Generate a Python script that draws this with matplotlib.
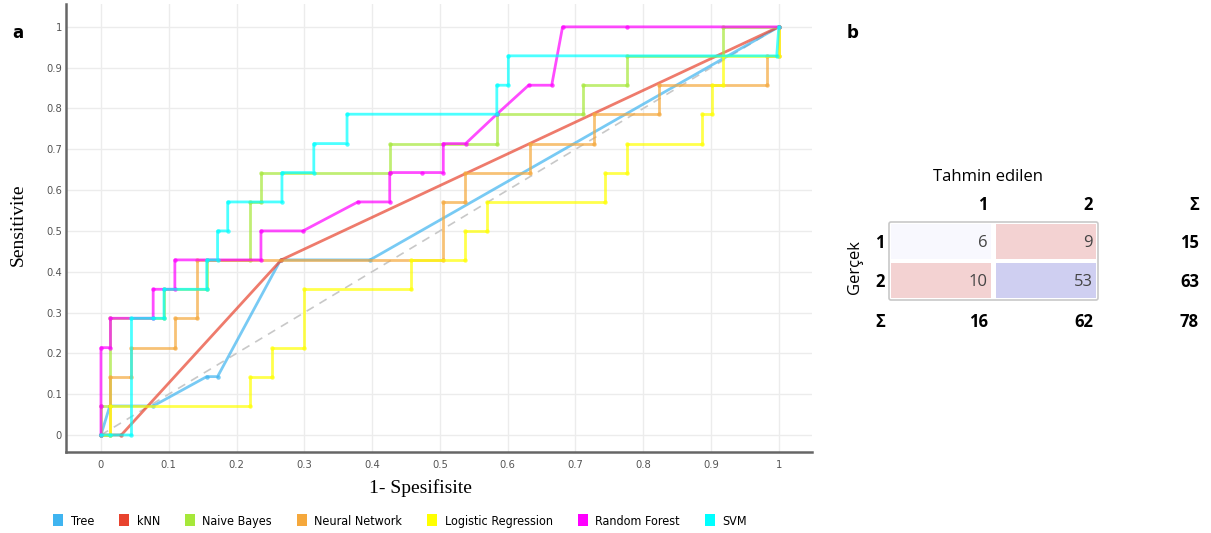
import matplotlib
matplotlib.use("Agg")
import matplotlib.pyplot as plt
from matplotlib.patches import Rectangle, FancyBboxPatch, Patch
from matplotlib.font_manager import FontProperties

W, H = 1211, 533

# ROC curves (1 - specificity, sensitivity)
tree_x = [0, 0.013, 0.077, 0.156, 0.172, 0.265, 0.397, 1]
tree_y = [0, 0.071, 0.071, 0.143, 0.143, 0.429, 0.429, 1]

knn_x = [0, 0.030, 0.266, 1]
knn_y = [0, 0, 0.429, 1]

nb_x = [0, 0, 0.013, 0.013, 0.093, 0.093, 0.156, 0.156, 0.220, 0.220, 0.236, 0.236,
        0.426, 0.426, 0.584, 0.584, 0.711, 0.711, 0.776, 0.776, 0.917, 0.917, 1]
nb_y = [0, 0.071, 0.071, 0.286, 0.286, 0.357, 0.357, 0.429, 0.429, 0.571, 0.571, 0.643,
        0.643, 0.714, 0.714, 0.786, 0.786, 0.857, 0.857, 0.929, 0.929, 1, 1]

nn_x = [0, 0.013, 0.013, 0.045, 0.045, 0.109, 0.109, 0.141, 0.141, 0.505, 0.505, 0.537,
        0.537, 0.633, 0.633, 0.727, 0.727, 0.823, 0.823, 0.982, 0.982, 1, 1]
nn_y = [0, 0, 0.143, 0.143, 0.214, 0.214, 0.286, 0.286, 0.429, 0.429, 0.571, 0.571,
        0.643, 0.643, 0.714, 0.714, 0.786, 0.786, 0.857, 0.857, 0.929, 0.929, 1]

lr_x = [0, 0.013, 0.013, 0.220, 0.220, 0.252, 0.252, 0.300, 0.300, 0.458, 0.458, 0.537,
        0.537, 0.569, 0.569, 0.743, 0.743, 0.776, 0.776, 0.886, 0.886, 0.902, 0.902,
        0.917, 0.917, 1, 1]
lr_y = [0, 0, 0.071, 0.071, 0.143, 0.143, 0.214, 0.214, 0.357, 0.357, 0.429, 0.429,
        0.5, 0.5, 0.571, 0.571, 0.643, 0.643, 0.714, 0.714, 0.786, 0.786, 0.857,
        0.857, 0.929, 0.929, 1]

rf_x = [0, 0, 0, 0.014, 0.014, 0.077, 0.077, 0.109, 0.109, 0.236, 0.236, 0.298, 0.379,
        0.426, 0.426, 0.473, 0.505, 0.505, 0.538, 0.584, 0.631, 0.665, 0.681, 0.776, 1]
rf_y = [0, 0.071, 0.214, 0.214, 0.286, 0.286, 0.357, 0.357, 0.429, 0.429, 0.5, 0.5, 0.571,
        0.571, 0.643, 0.643, 0.643, 0.714, 0.714, 0.786, 0.857, 0.857, 1, 1, 1]

svm_x = [0, 0.013, 0.045, 0.045, 0.077, 0.093, 0.093, 0.156, 0.156, 0.172, 0.172, 0.187,
         0.187, 0.267, 0.267, 0.314, 0.314, 0.363, 0.363, 0.584, 0.584, 0.601, 0.601,
         0.997, 1]
svm_y = [0, 0, 0, 0.286, 0.286, 0.286, 0.357, 0.357, 0.429, 0.429, 0.5, 0.5,
         0.571, 0.571, 0.643, 0.643, 0.714, 0.714, 0.786, 0.786, 0.857, 0.857, 0.929,
         0.929, 1]

names = ["Tree", "kNN", "Naive Bayes", "Neural Network", "Logistic Regression",
         "Random Forest", "SVM"]
colors = ["#3fb4f0", "#e8432e", "#a6e83a", "#f5a83c", "#ffff00", "#ff00ff", "#00ffff"]
curves = [(tree_x, tree_y), (knn_x, knn_y), (nb_x, nb_y), (nn_x, nn_y),
          (lr_x, lr_y), (rf_x, rf_y), (svm_x, svm_y)]

# confusion matrix
classes = ["1", "2"]
cm = [[6, 9], [10, 53]]
cell_colors = [["#f8f8fe", "#f3d2d2"], ["#f3d2d2", "#cfcff1"]]

fig = plt.figure(figsize=(W / 100, H / 100), dpi=100)

ax = fig.add_axes([66 / W, (H - 452) / H, (812 - 66) / W, (452 - 4) / H])
ax.plot([0, 1], [0, 1], color="#c8c8c8", lw=1.2, ls=(0, (5, 4)), zorder=1)
for (xs, ys), c in zip(curves, colors):
    ax.plot(xs, ys, color=c, alpha=0.7, lw=2.0, marker="o", ms=3.2,
            markeredgewidth=0, zorder=2)

ax.set_xlim(-0.0516, 1.049)
ax.set_ylim(-0.0417, 1.056)
ticks = [i / 10 for i in range(11)]
labels = ["0"] + ["%.1f" % t for t in ticks[1:-1]] + ["1"]
ax.set_xticks(ticks)
ax.set_xticklabels(labels)
ax.set_yticks(ticks)
ax.set_yticklabels(labels)
narrow = FontProperties(family="DejaVu Sans", stretch="condensed", size=8)
for lab in ax.get_xticklabels() + ax.get_yticklabels():
    lab.set_fontproperties(narrow)
    lab.set_color("#555555")
ax.tick_params(length=0, pad=6)
ax.tick_params(axis="y", pad=3)
ax.grid(True, color="#ececec", lw=1)
ax.set_axisbelow(True)
for s in ["top", "right"]:
    ax.spines[s].set_visible(False)
for s in ["left", "bottom"]:
    ax.spines[s].set_color("#666666")
    ax.spines[s].set_linewidth(1.8)

fig.text(420 / W, 1 - 488 / H, "1- Spesifisite", family="Liberation Serif",
         fontsize=14, ha="center", va="center")
fig.text(18 / W, 1 - 225 / H, "Sensitivite", family="Liberation Serif",
         fontsize=14, ha="center", va="center", rotation=90)
fig.text(18 / W, 1 - 33 / H, "a", fontsize=12, weight="bold", ha="center", va="center")
fig.text(853 / W, 1 - 33 / H, "b", fontsize=12, weight="bold", ha="center", va="center")

handles = [Patch(facecolor=c, edgecolor="none") for c in colors]
legfont = FontProperties(family="DejaVu Sans", stretch="condensed", size=9)
leg = fig.legend(handles, names, loc="center", bbox_to_anchor=(400 / W, 1 - 521 / H),
                 ncol=7, frameon=False, handlelength=0.8, handleheight=1.1,
                 handletextpad=0.6, columnspacing=2.0, prop=legfont)

# confusion matrix panel in pixel coordinates
tb = fig.add_axes([0, 0, 1, 1])
tb.set_xlim(0, W)
tb.set_ylim(H, 0)
tb.axis("off")
tb.patch.set_alpha(0)

tfont = ["Open Sans", "DejaVu Sans"]
tb.add_patch(FancyBboxPatch((889, 222), 209, 78, boxstyle="round,pad=0,rounding_size=2",
                            facecolor="white", edgecolor="#c8c8c8", lw=1.2))
col_left = [891, 996]
col_right = [988, 1093]
row_top = [224, 263]
row_mid = [243, 282]
for i in range(2):
    for j in range(2):
        tb.add_patch(Rectangle((col_left[j], row_top[i]), 100, 35,
                               facecolor=cell_colors[i][j], edgecolor="none"))
        tb.text(col_right[j], row_mid[i], str(cm[i][j]), ha="right", va="center",
                fontsize=12, color="#444444", family=tfont)

tb.text(988, 177, "Tahmin edilen", ha="center", va="center", fontsize=12, family=tfont)
tb.text(855, 267, "Gerçek", ha="center", va="center", fontsize=12, family=tfont,
        rotation=90)
for j, c in enumerate(classes):
    tb.text(col_right[j], 205, c, ha="right", va="center", fontsize=12,
            weight="bold", family=tfont)
    tb.text(880, row_mid[j], c, ha="center", va="center", fontsize=12,
            weight="bold", family=tfont)
tb.text(1199, 205, "Σ", ha="right", va="center", fontsize=12, weight="bold", family=tfont)
tb.text(880, 322, "Σ", ha="center", va="center", fontsize=12, weight="bold", family=tfont)

row_tot = [sum(r) for r in cm]
col_tot = [cm[0][j] + cm[1][j] for j in range(2)]
for i in range(2):
    tb.text(1199, row_mid[i], str(row_tot[i]), ha="right", va="center", fontsize=12,
            weight="bold", family=tfont)
    tb.text(col_right[i], 322, str(col_tot[i]), ha="right", va="center", fontsize=12,
            weight="bold", family=tfont)
tb.text(1199, 322, str(sum(row_tot)), ha="right", va="center", fontsize=12,
        weight="bold", family=tfont)

fig.savefig("out.png", dpi=100)
